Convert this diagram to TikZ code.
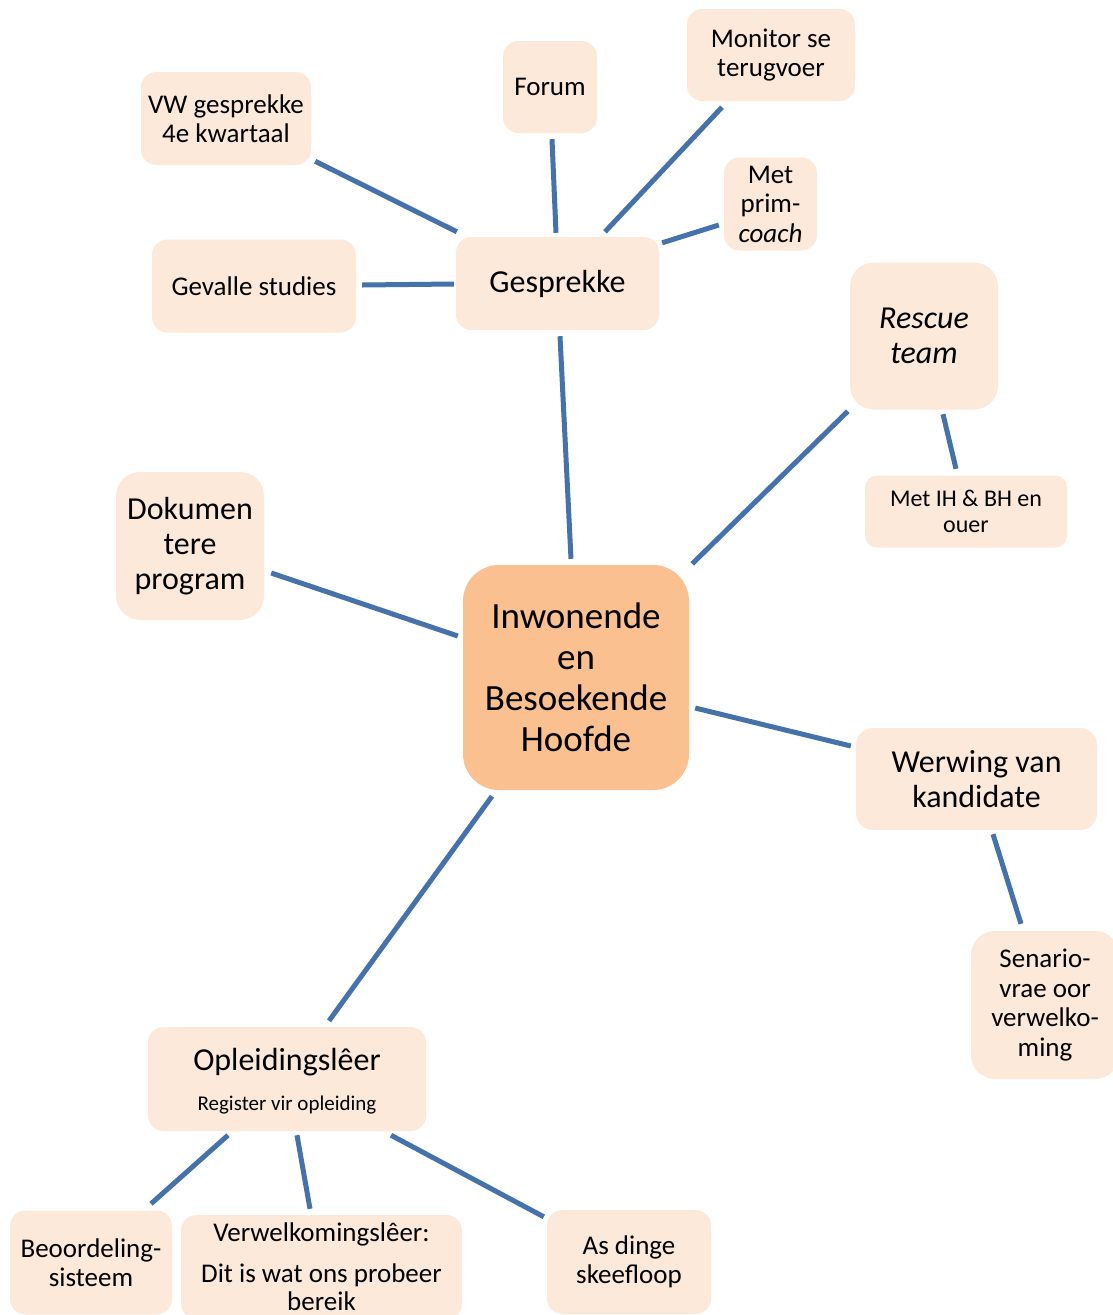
\documentclass[tikz,border=0pt]{standalone}
\usepackage{fontspec}
\setmainfont{Carlito}
\definecolor{peach}{HTML}{FDE9D9}
\definecolor{apricot}{HTML}{FAC090}
\definecolor{linkblue}{HTML}{4672AB}
\begin{document}
\begin{tikzpicture}[x=1pt,y=-1pt,
  box/.style={fill=peach,draw=none,rounded corners=15.5,inner sep=0,align=center},
  hub/.style={fill=apricot,draw=none,rounded corners=36,inner sep=0,align=center},
  link/.style={draw=linkblue,line width=5},
  tsmall/.style={font=\fontsize{24}{26.5}\selectfont},
  tmid/.style={font=\fontsize{27}{29.5}\selectfont},
  tbig/.style={font=\fontsize{32}{35}\selectfont},
  thuge/.style={font=\fontsize{37}{41}\selectfont},
  tsub/.style={font=\fontsize{21}{23}\selectfont}]
\useasboundingbox[fill=white] (0,0) rectangle (1113,1315);

% top cluster
\node[box,tmid,minimum width=170,minimum height=93] (vw) at (226,118.5) {VW gesprekke\\4e kwartaal};
\node[box,tmid,minimum width=94,minimum height=92] (forum) at (550,87) {Forum};
\node[box,tmid,minimum width=168,minimum height=92] (mon) at (771,55) {Monitor se\\terugvoer};
\node[box,tmid,minimum width=93,minimum height=93] (prim) at (770.5,204) {Met\\prim-\\\textit{coach}};
\node[box,tmid,minimum width=204,minimum height=93] (gev) at (254,286) {Gevalle studies};
\node[box,tbig,minimum width=203,minimum height=93] (ges) at (557.5,283.5) {Gesprekke};

% right cluster
\node[box,tbig,rounded corners=24,minimum width=148,minimum height=147] (resc) at (924,336) {\textit{Rescue}\\\textit{team}};
\node[box,tsmall,rounded corners=12,minimum width=202,minimum height=72] (ih) at (966,511.5) {Met IH \& BH en\\ouer};
\node[box,tbig,rounded corners=17,minimum width=241,minimum height=102] (werw) at (976.5,779) {Werwing van\\kandidate};
\node[box,tmid,rounded corners=24,minimum width=148,minimum height=148] (sen) at (1045,1005) {Senario-\\vrae oor\\verwelko-\\ming};

% left and centre
\node[box,tbig,rounded corners=24,minimum width=148,minimum height=148] (dok) at (190,546) {Dokumen\\tere\\program};
\node[hub,thuge,minimum width=226,minimum height=225] (mid) at (576,677.5) {Inwonende\\en\\Besoekende\\Hoofde};

% bottom cluster
\node[box,minimum width=278,minimum height=104] (opl) at (287,1079) {};
\node[tbig,anchor=base,inner sep=0] (opl-t) at (287,1070) {Opleidingslêer};
\node[tsub,anchor=base,inner sep=0] (opl-s) at (287,1110) {Register vir opleiding};
\node[box,tmid,minimum width=162,minimum height=104] (beo) at (91,1262.5) {Beoordeling-\\sisteem};
\node[box,minimum width=281,minimum height=104] (verw) at (321.5,1267) {};
\node[tmid,anchor=base,inner sep=0] (verw-a) at (321.5,1241) {Verwelkomingslêer:};
\node[tmid,anchor=base,inner sep=0] (verw-b) at (321.5,1282) {Dit is wat ons probeer};
\node[tmid,anchor=base,inner sep=0] (verw-c) at (321.5,1310) {bereik};
\node[box,tmid,minimum width=164,minimum height=104] (as) at (629,1262) {As dinge\\skeefloop};

% connectors
\draw[link] ([shift={(4,-4)}]vw.south east) -- ([shift={(1,-5)}]ges.north west);
\draw[link] ([shift={(2,6)}]forum.south) -- ([shift={(-1.5,-4)}]ges.north);
\draw[link] ([shift={(-49,6)}]mon.south) -- ([shift={(47.5,-5)}]ges.north);
\draw[link] ([shift={(-5,21)}]prim.west) -- ([shift={(3,6)}]ges.north east);
\draw[link] ([shift={(6,-1)}]gev.east) -- ([shift={(-2,0.5)}]ges.west);
\draw[link] ([shift={(2.5,6)}]ges.south) -- ([shift={(-5,-6)}]mid.north);
\draw[link] ([shift={(7,27)}]dok.east) -- ([shift={(-5,-41.5)}]mid.west);
\draw[link] ([shift={(-2,1.5)}]resc.south west) -- ([shift={(3,-1)}]mid.north east);
\draw[link] ([shift={(19,4.5)}]resc.south) -- ([shift={(-10,-6.5)}]ih.north);
\draw[link] ([shift={(6,30.5)}]mid.east) -- ([shift={(-5,-33)}]werw.west);
\draw[link] ([shift={(16.5,4)}]werw.south) -- ([shift={(-24,-7)}]sen.north);
\draw[link] ([shift={(-84,6)}]mid.south) -- ([shift={(42,-6)}]opl.north);
\draw[link] ([shift={(-59,4)}]opl.south) -- ([shift={(60,-6.5)}]beo.north);
\draw[link] ([shift={(10,4)}]opl.south) -- ([shift={(-11.5,-6)}]verw.north);
\draw[link] ([shift={(104,4)}]opl.south) -- ([shift={(-3,7)}]as.north west);
\end{tikzpicture}
\end{document}
